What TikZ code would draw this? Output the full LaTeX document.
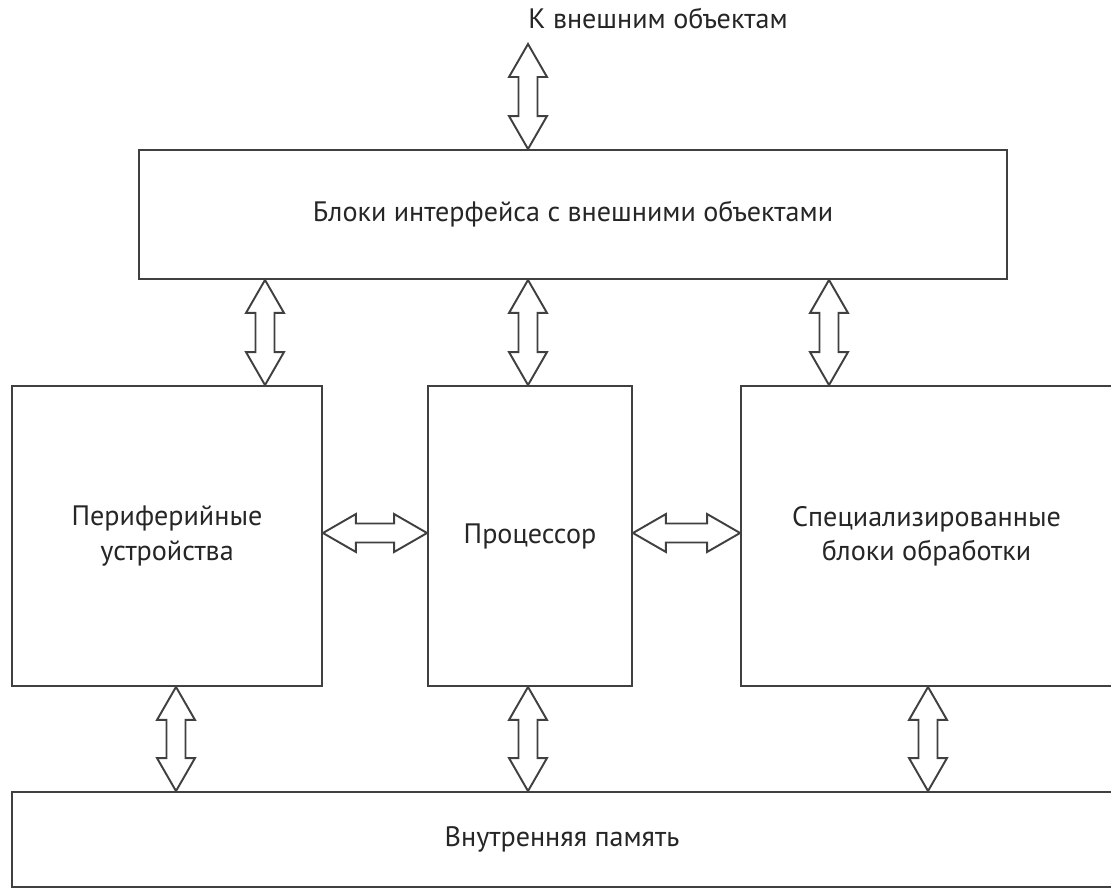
\documentclass[tikz,border=0pt]{standalone}
\usepackage{fontspec}
\setmainfont{PT Sans}
\usetikzlibrary{calc}

\tikzset{
  block/.style={draw=black!75, line width=1.1pt, align=center, inner sep=0pt,
    text=black!85, font=\fontsize{16}{19.4}\selectfont},
  bus/.style={draw=black!75, line width=1.1pt, line join=miter, to path={
      (\tikztostart) coordinate (bA) (\tikztotarget) coordinate (bB)
      ($(bA)!0.66cm!(bB)$) coordinate (hA)
      ($(bB)!0.66cm!(bA)$) coordinate (hB)
      (bA) -- ($(hA)!0.38cm!90:(bB)$) -- ($(hA)!0.19cm!90:(bB)$)
      -- ($(hB)!0.19cm!-90:(bA)$) -- ($(hB)!0.38cm!-90:(bA)$) -- (bB)
      -- ($(hB)!0.38cm!90:(bA)$) -- ($(hB)!0.19cm!90:(bA)$)
      -- ($(hA)!0.19cm!-90:(bB)$) -- ($(hA)!0.38cm!-90:(bB)$) -- cycle}}
}

\begin{document}
\begin{tikzpicture}[x=0.02cm, y=-0.02cm]
  \path[use as bounding box, fill=white] (0,0) rectangle (1111,889);

  % blocks
  \node[block, minimum width=17.36cm, minimum height=2.58cm] (iface) at (573,214.5) {Блоки интерфейса с внешними объектами};
  \node[block, minimum width=6.2cm, minimum height=6cm] (periph) at (167,536) {Периферийные\\устройства};
  \node[block, minimum width=4.08cm, minimum height=6cm] (cpu) at (530,536) {Процессор};
  \node[block, minimum width=7.42cm, minimum height=6cm] (spec) at (926.5,536) {Специализированные\\блоки обработки};
  \node[block, minimum width=22cm, minimum height=1.9cm] (mem) at (562,839.5) {Внутренняя память};
  \node[text=black!85, font=\fontsize{16}{19.4}\selectfont] (ext) at (658,18) {К внешним объектам};

  % bus positions
  \coordinate (extbus) at (528,44);
  \coordinate (ta) at (265,0);
  \coordinate (tb) at (528,0);
  \coordinate (tc) at (829,0);
  \coordinate (ba) at (176,0);
  \coordinate (bb) at (528,0);
  \coordinate (bc) at (928,0);
  \coordinate (row) at (0,533);

  % buses
  \draw[bus] (extbus) to (iface.north -| extbus);
  \draw[bus] (iface.south -| ta) to (periph.north -| ta);
  \draw[bus] (iface.south -| tb) to (cpu.north -| tb);
  \draw[bus] (iface.south -| tc) to (spec.north -| tc);
  \draw[bus] (periph.east |- row) to (cpu.west |- row);
  \draw[bus] (cpu.east |- row) to (spec.west |- row);
  \draw[bus] (periph.south -| ba) to (mem.north -| ba);
  \draw[bus] (cpu.south -| bb) to (mem.north -| bb);
  \draw[bus] (spec.south -| bc) to (mem.north -| bc);
\end{tikzpicture}
\end{document}
